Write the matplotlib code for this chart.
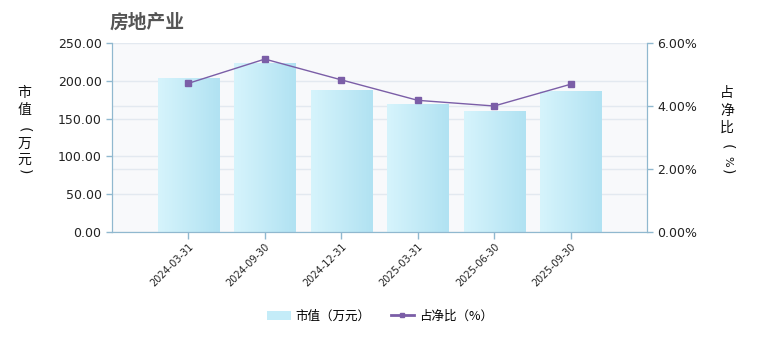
import matplotlib
matplotlib.use('Agg')
import matplotlib.pyplot as plt
import numpy as np
from matplotlib.colors import LinearSegmentedColormap
from matplotlib.patches import Patch
from matplotlib.lines import Line2D

plt.rcParams['font.family'] = ['Noto Sans CJK SC', 'DejaVu Sans']

dates = ['2024-03-31', '2024-09-30', '2024-12-31', '2025-03-31', '2025-06-30', '2025-09-30']
market_value = [202.4, 223.5, 187.8, 168.0, 160.0, 186.5]
net_ratio = [4.72, 5.49, 4.83, 4.18, 4.00, 4.69]

axis_color = '#90b8cf'
grid_color = '#e3e9f0'
line_color = '#7b5ea7'
grad = LinearSegmentedColormap.from_list('bar', ['#d6f4fc', '#b1e2f2'])

W, H = 760, 340
fig = plt.figure(figsize=(7.6, 3.4), dpi=100)
ax = fig.add_axes([112 / W, 1 - 232 / H, 535 / W, 189 / H])
ax2 = ax.twinx()

x = np.arange(1, len(dates) + 1)
ax.set_facecolor('#f8f9fb')

# grid lines from both axes
for v in [0, 50, 100, 150, 200, 250]:
    ax.axhline(v, color=grid_color, lw=1, zorder=0)
for v in [2, 4]:
    ax.axhline(v / 6 * 250, color=grid_color, lw=1, zorder=0)

gradient = np.linspace(0, 1, 64).reshape(1, -1)
w = 0.8
for xi, h in zip(x, market_value):
    ax.imshow(gradient, cmap=grad, aspect='auto', extent=[xi - w / 2, xi + w / 2, 0, h], zorder=2)
ax.set_xlim(0, len(dates) + 1)
ax.set_ylim(0, 250)
ax2.set_ylim(0, 6)

ax2.plot(x, net_ratio, color=line_color, lw=1, marker='s', markersize=4, zorder=3)

ax.set_yticks([0, 50, 100, 150, 200, 250])
ax.set_yticklabels([f'{v:.2f}' for v in [0, 50, 100, 150, 200, 250]], fontsize=9, family='DejaVu Sans')
ax2.set_yticks([0, 2, 4, 6])
ax2.set_yticklabels([f'{v:.2f}%' for v in [0, 2, 4, 6]], fontsize=9, family='DejaVu Sans')
ax.set_xticks(x)
ax.set_xticklabels(dates, rotation=45, ha='right', rotation_mode='anchor', fontsize=7, family='DejaVu Sans')

for a in (ax, ax2):
    for s in a.spines.values():
        s.set_color(axis_color)
    a.spines['top'].set_visible(False)
    a.tick_params(colors=axis_color, labelcolor='#222222', length=4, width=1)
ax.tick_params(axis='x', length=5, pad=2)

fig.text(110 / W, 1 - 22 / H, '房地产业', fontsize=13.5, fontweight='bold', color='#555555', va='center')

# vertical axis titles, one character at a time; brackets and % turned sideways
left_chars = [('市', 93), ('值', 110), ('(', 130), ('万', 144), ('元', 160), (')', 172)]
right_chars = [('占', 93), ('净', 111), ('比', 128), ('(', 147), ('%', 161), (')', 172)]
for chars, xc in [(left_chars, 24), (right_chars, 727)]:
    for ch, yc in chars:
        if ch in '()%':
            fig.text(xc / W, 1 - yc / H, ch, fontsize=8 if ch == '%' else 10, ha='center', va='center',
                     rotation=-90, rotation_mode='anchor', family='DejaVu Sans', color='#111111')
        else:
            fig.text(xc / W, 1 - yc / H, ch, fontsize=10, ha='center', va='center', color='#111111')

handles = [Patch(facecolor='#c4ecf8', edgecolor='none'),
           Line2D([0], [0], color=line_color, lw=2, marker='s', markersize=3)]
fig.legend(handles, ['市值（万元）', '占净比（%）'], loc='center', bbox_to_anchor=(0.5, 1 - 316 / H),
           ncol=2, frameon=False, fontsize=9, handlelength=1.9, handletextpad=0.4, columnspacing=1.6)

fig.savefig('out.png', dpi=100)
